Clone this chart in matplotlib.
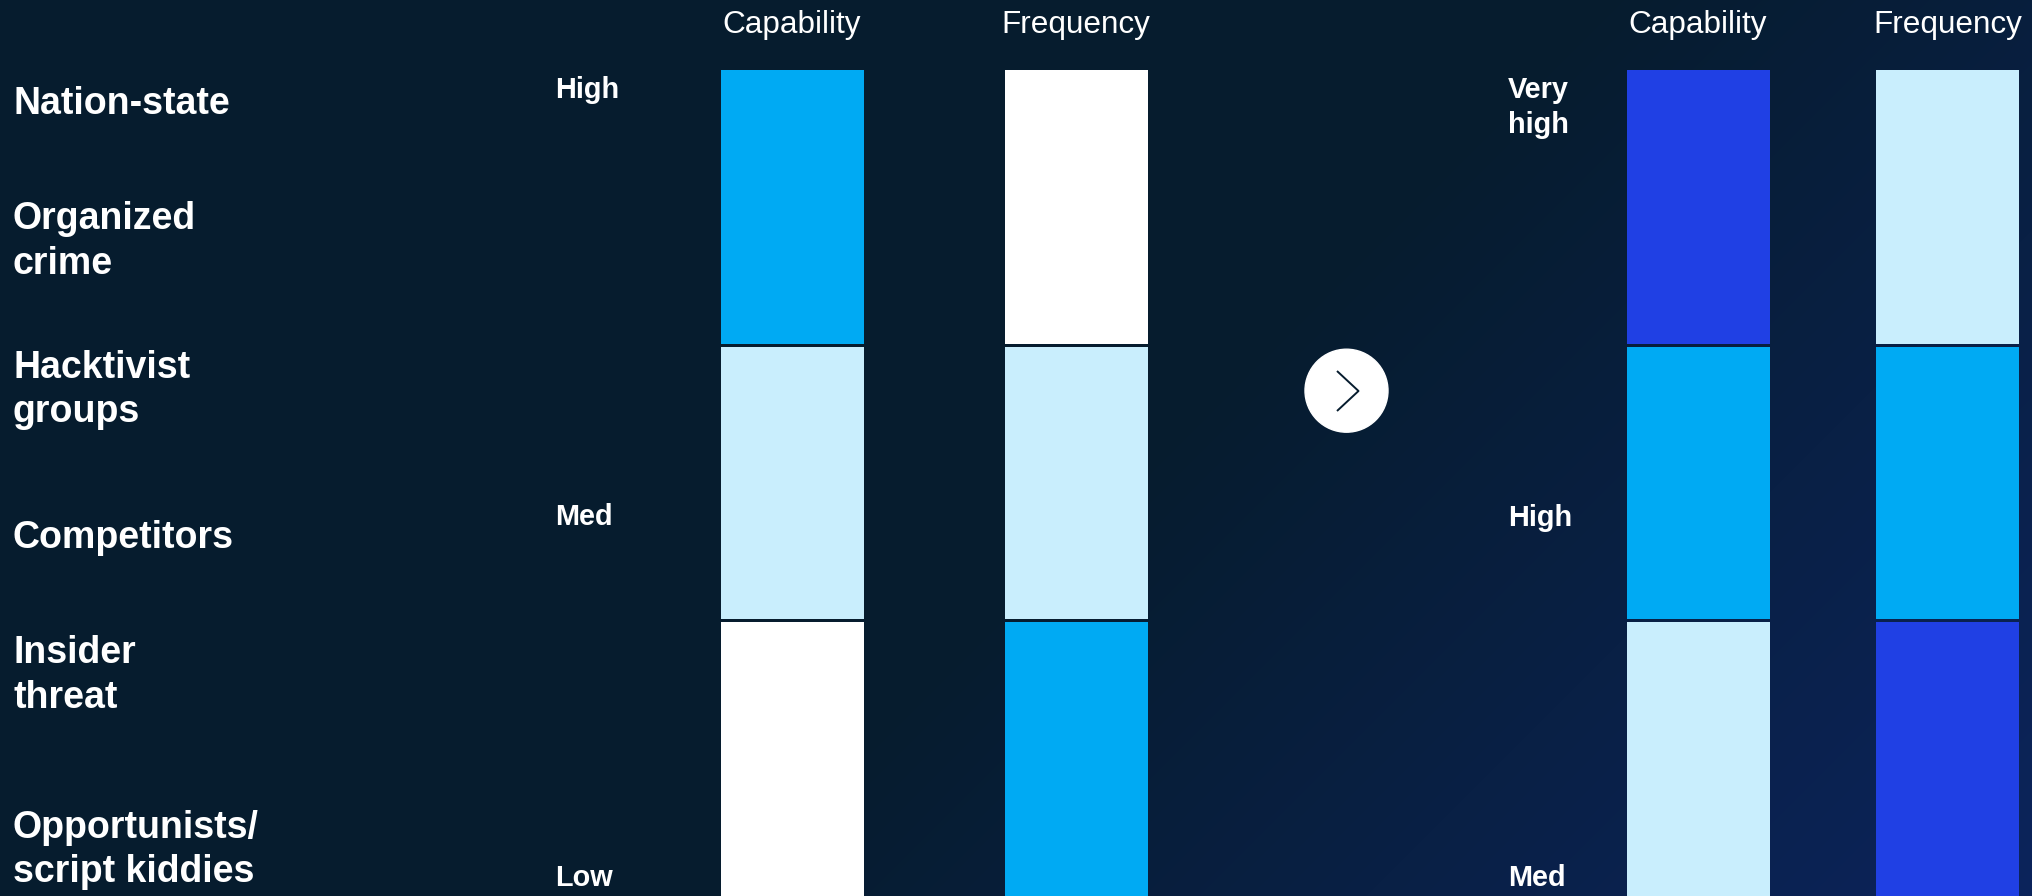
import numpy as np
import matplotlib.pyplot as plt
from matplotlib.patches import Circle

plt.rcParams['font.family'] = ['Liberation Sans', 'DejaVu Sans']

# --- data ---
actors = ['Nation-state', 'Organized\ncrime', 'Hacktivist\ngroups', 'Competitors',
          'Insider\nthreat', 'Opportunists/\nscript kiddies']
columns = ['Capability', 'Frequency']
# level index per segment, top -> bottom (0=white, 1=light, 2=bright, 3=dark)
now_capability = [2, 1, 0]
now_frequency = [0, 1, 2]
future_capability = [3, 2, 1]
future_frequency = [1, 2, 3]
now_scale = ['High', 'Med', 'Low']
future_scale = ['Very\nhigh', 'High', 'Med']

level_colors = ['#FFFFFF', '#C9EEFD', '#00AAF3', '#2040E4']

# --- layout (pixels, figure is 2032 x 896) ---
W, H = 2032, 896
bar_top, bar_bottom, gap = 70, 896, 3
bar_w = 143
now_x = [792, 1076]
future_x = [1698, 1947.5]
actor_baselines = [113.5, 229, 378, 548, 663, 838]
scale_baselines = [97.5, 525, 886]
future_scale_baselines = [98.3, 526, 886]

fig = plt.figure(figsize=(W / 100, H / 100), dpi=100)
ax = fig.add_axes([0, 0, 1, 1])
ax.set_xlim(0, W)
ax.set_ylim(H, 0)
ax.axis('off')

# background: dark navy with a diagonal glow towards the bottom right
xx, yy = np.meshgrid(np.arange(W), np.arange(H))
t = np.clip((xx + yy - 1595) / (W + H - 1595), 0, 1)
c0 = np.array([6, 28, 46]) / 255
c1 = np.array([12, 36, 92]) / 255
bg = c0 + (c1 - c0) * t[..., None]
ax.imshow(bg, extent=[0, W, H, 0], zorder=0, aspect='auto')

seg_h = (bar_bottom - bar_top) / 3


def draw_column(xc, levels):
    for i, lv in enumerate(levels):
        top = bar_top + i * seg_h + (gap / 2 if i > 0 else 0)
        bot = bar_top + (i + 1) * seg_h - (gap / 2 if i < 2 else 0)
        ax.bar(xc, bot - top, bottom=top, width=bar_w,
               color=level_colors[lv], linewidth=0, zorder=2)


draw_column(now_x[0], now_capability)
draw_column(now_x[1], now_frequency)
draw_column(future_x[0], future_capability)
draw_column(future_x[1], future_frequency)

# column headers
for xc, name in zip(now_x + future_x, columns * 2):
    ax.text(xc, 32.5, name, ha='center', va='baseline', color='white',
            fontsize=22.7, zorder=3)


def multiline(x, y, label, size, step):
    for k, line in enumerate(label.split('\n')):
        ax.text(x, y + k * step, line, ha='left', va='baseline', color='white',
                fontsize=size, fontweight='bold', zorder=3)


for lab, yb in zip(actors, actor_baselines):
    multiline(13, yb, lab, 27, 44.5)

for lab, yb in zip(now_scale, scale_baselines):
    multiline(555, yb, lab, 20.8, 35)

for lab, yb in zip(future_scale, future_scale_baselines):
    multiline(1508, yb, lab, 20.8, 35)

# arrow circle between the two panels
ax.add_patch(Circle((1346.5, 390.7), 41.5, color='white', zorder=3))
ax.plot([1337, 1358.5, 1337], [371, 391, 411], color='#061C2E', lw=1.4,
        zorder=4, solid_capstyle='butt')

fig.savefig('out.png', dpi=100, facecolor='#061C2E')
